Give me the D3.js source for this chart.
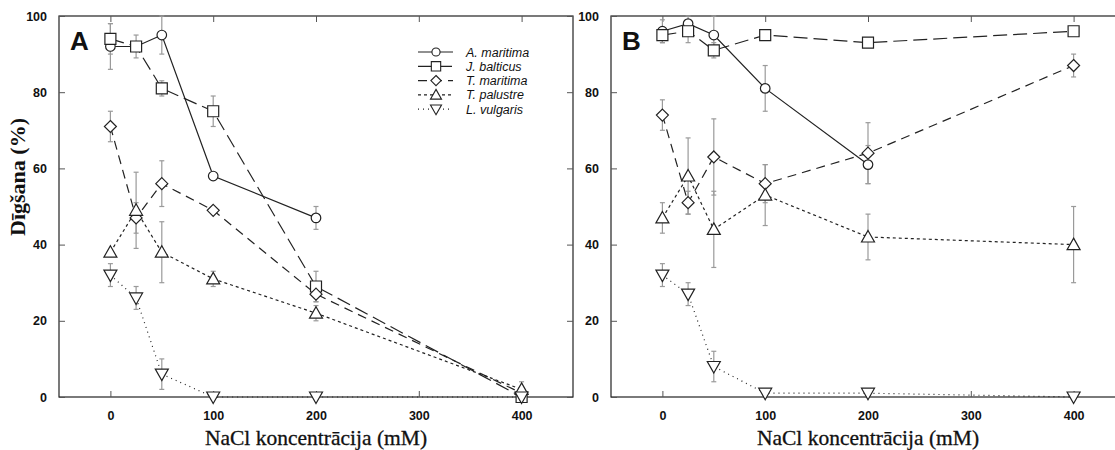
<!DOCTYPE html>
<html>
<head>
<meta charset="utf-8">
<script src="https://cdn.jsdelivr.net/npm/d3@7"></script>
<style>
  html, body { margin: 0; padding: 0; background: #fff; }
  svg { display: block; }
</style>
</head>
<body>
<svg id="chart" width="1115" height="450"></svg>
<script>
// NaCl concentrations (mM)
const concentrations = [0, 25, 50, 100, 200, 400];
const xTicks = [0, 100, 200, 300, 400];
const yTicks = [0, 20, 40, 60, 80, 100];
const speciesNames = ["A. maritima", "J. balticus", "T. maritima", "T. palustre", "L. vulgaris"];

// Panel A: germination (%) and error
const aMaritimaA = [92, 92, 95, 58, 47, null];
const aMaritimaErrA = [6, 0, 5, 0, 3, null];
const jBalticusA = [94, 92, 81, 75, 29, 0];
const jBalticusErrA = [4, 3, 2, 4, 4, 0];
const tMaritimaA = [71, 47, 56, 49, 27, 1];
const tMaritimaErrA = [4, 4, 6, 0, 2, 1];
const tPalustreA = [38, 49, 38, 31, 22, 2];
const tPalustreErrA = [0, 10, 8, 2, 2, 2];
const lVulgarisA = [32, 26, 6, 0, 0, 0];
const lVulgarisErrA = [3, 3, 4, 0, 0, 0];

// Panel B: germination (%) and error
const aMaritimaB = [96, 98, 95, 81, 61, null];
const aMaritimaErrB = [3, 2, 5, 6, 5, null];
const jBalticusB = [95, 96, 91, 95, 93, 96];
const jBalticusErrB = [2, 3, 2, 0, 0, 0];
const tMaritimaB = [74, 51, 63, 56, 64, 87];
const tMaritimaErrB = [4, 3, 10, 5, 8, 3];
const tPalustreB = [47, 58, 44, 53, 42, 40];
const tPalustreErrB = [4, 10, 10, 8, 6, 10];
const lVulgarisB = [32, 27, 8, 1, 1, 0];
const lVulgarisErrB = [3, 3, 4, 0, 0, 0];

const panelA = [
  [aMaritimaA, aMaritimaErrA], [jBalticusA, jBalticusErrA], [tMaritimaA, tMaritimaErrA],
  [tPalustreA, tPalustreErrA], [lVulgarisA, lVulgarisErrA]
];
const panelB = [
  [aMaritimaB, aMaritimaErrB], [jBalticusB, jBalticusErrB], [tMaritimaB, tMaritimaErrB],
  [tPalustreB, tPalustreErrB], [lVulgarisB, lVulgarisErrB]
];

// line and marker style per species
const styles = [
  { dash: null, marker: "circle" },
  { dash: "14,6", marker: "square" },
  { dash: "9,6", marker: "diamond" },
  { dash: "3,3", marker: "up" },
  { dash: "1,4", marker: "down" }
];

function markerPath(kind) {
  switch (kind) {
    case "circle": return d3.symbol(d3.symbolCircle, 72)();
    case "square": return "M-5.5,-5.5H5.5V5.5H-5.5Z";
    case "diamond": return "M0,-6L6,0L0,6L-6,0Z";
    case "up": return "M0,-6.5L6.5,5L-6.5,5Z";
    case "down": return "M0,6.5L6.5,-5L-6.5,-5Z";
  }
}

const svg = d3.select("#chart");
const sansBold = "'Liberation Sans', Arial, Helvetica, sans-serif";
const serif = "'Liberation Serif', 'Times New Roman', serif";

function drawPanel(opts) {
  const { left, right, top, bottom, data, letter, legend } = opts;
  const x = d3.scaleLinear().domain([-50, 450]).range([left, right]);
  const y = d3.scaleLinear().domain([0, 100]).range([bottom, top]);
  const g = svg.append("g");

  // frame
  g.append("rect")
    .attr("x", left).attr("y", top)
    .attr("width", right - left).attr("height", bottom - top)
    .attr("fill", "none").attr("stroke", "#222").attr("stroke-width", 1.2);

  // axes with inward ticks
  const styleAxis = sel => {
    sel.select(".domain").remove();
    sel.selectAll(".tick line").attr("stroke", "#555");
  };
  g.append("g").attr("transform", `translate(0,${bottom})`)
    .call(d3.axisBottom(x).tickValues(xTicks).tickSizeInner(-6).tickPadding(14))
    .call(styleAxis)
    .selectAll("text").attr("font-family", sansBold).attr("font-weight", "bold")
    .attr("font-size", 12.5).attr("fill", "#111");
  g.append("g").attr("transform", `translate(0,${top})`)
    .call(d3.axisTop(x).tickValues(xTicks).tickSizeInner(-6).tickFormat(""))
    .call(styleAxis);
  g.append("g").attr("transform", `translate(${left},0)`)
    .call(d3.axisLeft(y).tickValues(yTicks).tickSizeInner(-6).tickPadding(12))
    .call(styleAxis)
    .selectAll("text").attr("font-family", sansBold).attr("font-weight", "bold")
    .attr("font-size", 12.5).attr("fill", "#111");
  g.append("g").attr("transform", `translate(${right},0)`)
    .call(d3.axisRight(y).tickValues(yTicks).tickSizeInner(-6).tickFormat(""))
    .call(styleAxis);

  // panel letter
  g.append("text").attr("x", left + 11).attr("y", top + 34)
    .attr("font-family", sansBold).attr("font-weight", "bold")
    .attr("font-size", 26).attr("fill", "#111").text(letter);

  // x-axis title
  g.append("text").attr("x", (left + right) / 2).attr("y", 445)
    .attr("text-anchor", "middle")
    .attr("font-family", serif)
    .attr("font-size", 21.5).attr("fill", "#111")
    .attr("stroke", "#111").attr("stroke-width", 0.3)
    .text("NaCl koncentrācija (mM)");

  // error bars
  data.forEach(([vals, errs]) => {
    concentrations.forEach((c, i) => {
      if (vals[i] == null || !errs[i]) return;
      const cx = x(c), y1 = y(Math.min(100, vals[i] + errs[i])), y2 = y(vals[i] - errs[i]);
      const eb = g.append("g").attr("stroke", "#9a9a9a").attr("stroke-width", 1.2);
      eb.append("line").attr("x1", cx).attr("x2", cx).attr("y1", y1).attr("y2", y2);
      eb.append("line").attr("x1", cx - 2.5).attr("x2", cx + 2.5).attr("y1", y1).attr("y2", y1);
      eb.append("line").attr("x1", cx - 2.5).attr("x2", cx + 2.5).attr("y1", y2).attr("y2", y2);
    });
  });

  // lines
  data.forEach(([vals], s) => {
    const pts = concentrations.map((c, i) => [c, vals[i]]).filter(p => p[1] != null);
    g.append("path")
      .attr("d", d3.line().x(p => x(p[0])).y(p => y(p[1]))(pts))
      .attr("fill", "none").attr("stroke", "#222").attr("stroke-width", 1.2)
      .attr("stroke-dasharray", styles[s].dash);
  });

  // markers
  data.forEach(([vals], s) => {
    concentrations.forEach((c, i) => {
      if (vals[i] == null) return;
      g.append("path").attr("d", markerPath(styles[s].marker))
        .attr("transform", `translate(${x(c)},${y(vals[i])})`)
        .attr("fill", "#fff").attr("stroke", "#222").attr("stroke-width", 1.2);
    });
  });

  if (legend) {
    const lx = 418, ly = 52, dy = 14.3;
    speciesNames.forEach((name, s) => {
      const yy = ly + s * dy;
      g.append("line").attr("x1", lx).attr("x2", lx + 35).attr("y1", yy).attr("y2", yy)
        .attr("stroke", "#222").attr("stroke-width", 1.2)
        .attr("stroke-dasharray", styles[s].dash);
      g.append("path").attr("d", markerPath(styles[s].marker))
        .attr("transform", `translate(${lx + 18},${yy}) scale(0.85)`)
        .attr("fill", "#fff").attr("stroke", "#222").attr("stroke-width", 1.3);
      g.append("text").attr("x", lx + 48).attr("y", yy + 4.5)
        .attr("font-family", sansBold).attr("font-style", "italic")
        .attr("font-size", 12.5).attr("fill", "#111").text(name);
    });
  }
}

drawPanel({ left: 59, right: 573, top: 16, bottom: 397, data: panelA, letter: "A", legend: true });
drawPanel({ left: 611, right: 1125, top: 16, bottom: 397, data: panelB, letter: "B", legend: false });

// y-axis title
svg.append("text")
  .attr("transform", "translate(25,177) rotate(-90)")
  .attr("text-anchor", "middle")
  .attr("font-family", serif)
  .attr("font-weight", "bold")
  .attr("font-size", 22).attr("fill", "#111")
  .text("Dīgšana (%)");
</script>
</body>
</html>
